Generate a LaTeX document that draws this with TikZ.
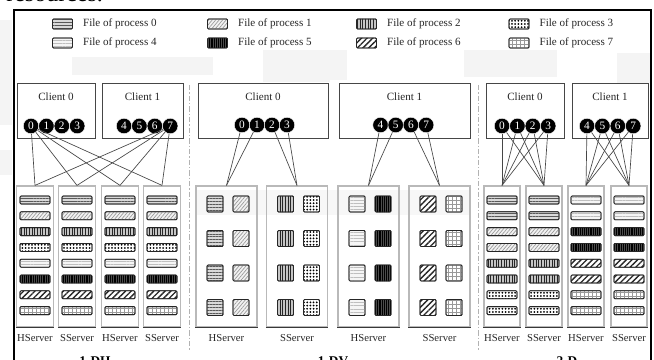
\documentclass[tikz,border=0pt]{standalone}
\usepackage{fontspec}
\setmainfont{Liberation Serif}
\usetikzlibrary{patterns.meta}
\newdimen\pxu \pxu=0.75pt

\tikzset{
  edgecol/.style={draw=gray!30!black, line width=0.6pt},
  filebox/.style={edgecol, rounded corners=0.8pt, inner sep=0pt},
  slot/.style={filebox, minimum width=30\pxu, minimum height=8\pxu},
  tile/.style={filebox, minimum width=16\pxu, minimum height=16\pxu},
  swatch/.style={filebox, minimum width=20\pxu, minimum height=10\pxu},
  pat/.style 2 args={postaction={pattern={#1}, pattern color=#2},
                     postaction={edgecol}},
  f0/.style={fill=gray!30, pat={Lines[angle=0,distance=2.2pt,line width=0.5pt]}{gray!70!black}},
  f1/.style={fill=gray!10, pat={Lines[angle=50,distance=2pt,line width=0.5pt]}{gray!80}},
  f2/.style={fill=gray!45, pat={Lines[angle=90,distance=2pt,line width=0.5pt]}{gray!30!black}},
  f3/.style={fill=white, pat={Dots[distance=2.4pt,radius=0.75pt]}{black}},
  f4/.style={fill=gray!8, pat={Lines[angle=0,distance=2.4pt,line width=0.4pt]}{gray!50}},
  f5/.style={fill=gray!60!black, pat={Lines[angle=90,distance=1.4pt,line width=0.5pt]}{black}},
  f6/.style={fill=white, pat={Lines[angle=45,distance=3pt,line width=1pt]}{black!85}},
  f7/.style={fill=white, pat={Hatch[angle=0,distance=3pt,line width=0.4pt]}{gray!80}},
  file/.style={f#1},
  server/.style={draw=gray!55, line width=0.9pt, fill=white, inner sep=0pt,
                 minimum height=141\pxu},
  shadowline/.style={draw=gray!45!black, line width=1.3pt},
  client/.style={draw=gray!55!black, line width=0.6pt, fill=white, inner sep=0pt,
                 minimum height=55\pxu},
  proc/.style={circle, fill=black, draw=white, line width=0.3pt, inner sep=0pt,
               minimum size=15.5\pxu, text=white, font=\fontsize{8.5}{8.5}\selectfont},
  link/.style={draw=gray!55!black, line width=0.5pt},
  txt/.style={font=\fontsize{8.3}{10}\selectfont, inner sep=0pt, text=black!85},
  srvlbl/.style={font=\fontsize{8}{10}\selectfont, inner sep=0pt, text=black!85},
  caption/.style={font=\bfseries\fontsize{10}{12}\selectfont, inner sep=0pt, anchor=north},
  divider/.style={draw=gray!60, line width=0.6pt,
                  dash pattern=on 4pt off 1.5pt on 1pt off 1.5pt},
  haze/.style={fill=gray!9, draw=none}
}

\begin{document}
\begin{tikzpicture}[x=0.75pt, y=-0.75pt]
\useasboundingbox (0,0) rectangle (654,360);

% faint grey blocks printed behind the figure
\fill[haze] (72,57) rectangle (213,75);
\fill[haze] (263,50) rectangle (330,82);
\fill[haze] (324,50) rectangle (347,80);
\fill[haze] (464,50) rectangle (557,77);
\fill[haze] (617,53) rectangle (651,83);
\fill[haze] (0,20) rectangle (12,125);
\fill[haze] (0,150) rectangle (12,175);
\fill[haze, fill=gray!6] (196,190) rectangle (470,215);

% line of running text above the figure
\node[anchor=base west, inner sep=0pt, font=\fontsize{18}{18}\selectfont] (runtext) at (6,1.5) {resources.};

% outer frame
\coordinate (fbl) at (14,370);
\coordinate (ftl) at (14,10);
\coordinate (ftr) at (651,10);
\coordinate (fbr) at (651,370);
\draw[line width=1.3pt] (fbl) -- (ftl) -- (ftr) -- (fbr);

% legend
\foreach \k/\x/\y in {0/62.5/24, 1/217.5/24, 2/366.5/24, 3/519/24,
                      4/62.5/43, 5/217.5/43, 6/366.5/43, 7/519/43} {
  \node[swatch, file=\k] (lg\k) at (\x,\y) {};
  \node[txt, anchor=west] (lt\k) at ([xshift=7.5pt]lg\k.east) {File of process \k};
}

% section dividers
\coordinate (dv1t) at (189,85);  \coordinate (dv1b) at (189,350);
\coordinate (dv2t) at (478,85);  \coordinate (dv2b) at (478,350);
\draw[divider] (dv1t) -- (dv1b);
\draw[divider] (dv2t) -- (dv2b);

% ---------------- 1-DH ----------------
\node[client, minimum width=78\pxu] (ha) at (56,110.5) {};
\node[client, minimum width=81\pxu] (hb) at (142.5,110.5) {};
\node[txt] (hat) at (56,97) {Client 0};
\node[txt] (hbt) at (142.5,97) {Client 1};
\foreach \k in {0,...,3} \node[proc] (a\k) at ({31+15.4*\k},126) {\k};
\foreach \k in {4,...,7} \node[proc] (a\k) at ({124+15.4*(\k-4)},126) {\k};

\foreach \n/\x/\t in {1/35/HServer, 2/77/SServer, 3/120/HServer, 4/162/SServer} {
  \node[server, minimum width=37\pxu] (sa\n) at (\x,256.5) {};
  \draw[shadowline] (sa\n.south west) -- (sa\n.south east);
  \foreach \k in {0,...,7}
    \node[slot, file=\k] (sa\n-\k) at (\x,{200+15.8*\k}) {};
  \node[srvlbl] (la\n) at (\x,338) {\t};
}
\foreach \n in {1,...,4} {
  \draw[link] (a0) -- (sa\n.north);
  \draw[link] (a7) -- (sa\n.north);
}
\node[caption] (capa) at (95,356.5) {1-DH};

% ---------------- 1-DV ----------------
\node[client, minimum width=130\pxu] (va) at (263,110.5) {};
\node[client, minimum width=131\pxu] (vb) at (404.5,110.5) {};
\node[txt] (vat) at (263,97) {Client 0};
\node[txt] (vbt) at (404.5,97) {Client 1};
\foreach \k in {0,...,3} \node[proc] (b\k) at ({242+15*\k},125) {\k};
\foreach \k in {4,...,7} \node[proc] (b\k) at ({380.5+15.2*(\k-4)},125) {\k};

\foreach \n/\x/\p/\q/\t in {1/226.5/0/1/HServer, 2/297/2/3/SServer,
                            3/368.5/4/5/HServer, 4/439.5/6/7/SServer} {
  \node[server, minimum width=61\pxu, fill=none] (sb\n) at (\x,256.5) {};
  \draw[shadowline] (sb\n.south west) -- (sb\n.south east);
  \foreach \r/\y in {0/204, 1/238.5, 2/273, 3/307.5} {
    \node[tile, file=\p] (sb\n-\r-a) at ({\x-11.5},\y) {};
    \node[tile, file=\q] (sb\n-\r-b) at ({\x+14.5},\y) {};
  }
  \node[srvlbl] (lb\n) at (\x,338) {\t};
}
\draw[link] (b0) -- (sb1.north);  \draw[link] (b1) -- (sb1.north);
\draw[link] (b2) -- (sb2.north);  \draw[link] (b3) -- (sb2.north);
\draw[link] (b4) -- (sb3.north);  \draw[link] (b5) -- (sb3.north);
\draw[link] (b6) -- (sb4.north);  \draw[link] (b7) -- (sb4.north);
\node[caption] (capb) at (333,356.5) {1-DV};

% ---------------- 2-D ----------------
\node[client, minimum width=78\pxu] (ta) at (525,110.5) {};
\node[client, minimum width=76\pxu] (tb) at (610,110.5) {};
\node[txt] (tat) at (525,97) {Client 0};
\node[txt] (tbt) at (610,97) {Client 1};
\foreach \k in {0,...,3} \node[proc] (d\k) at ({502+15.4*\k},126) {\k};
\foreach \k in {4,...,7} \node[proc] (d\k) at ({587+15.4*(\k-4)},126) {\k};

\foreach \n/\x/\b/\t in {1/502/0/HServer, 2/544/0/SServer, 3/586/4/HServer, 4/629/4/SServer} {
  \node[server, minimum width=36\pxu] (sd\n) at (\x,256.5) {};
  \draw[shadowline] (sd\n.south west) -- (sd\n.south east);
  \foreach \k in {0,...,7} {
    \pgfmathtruncatemacro\f{\b+int(\k/2)}
    \node[slot, file=\f] (sd\n-\k) at (\x,{200+15.8*\k}) {};
  }
  \node[srvlbl] (ld\n) at (\x,338) {\t};
}
\foreach \k in {0,...,3} {
  \draw[link] (d\k) -- (sd1.north);
  \draw[link] (d\k) -- (sd2.north);
}
\foreach \k in {4,...,7} {
  \draw[link] (d\k) -- (sd3.north);
  \draw[link] (d\k) -- (sd4.north);
}
\node[caption] (capd) at (567,356.5) {2-D};
\end{tikzpicture}
\end{document}
